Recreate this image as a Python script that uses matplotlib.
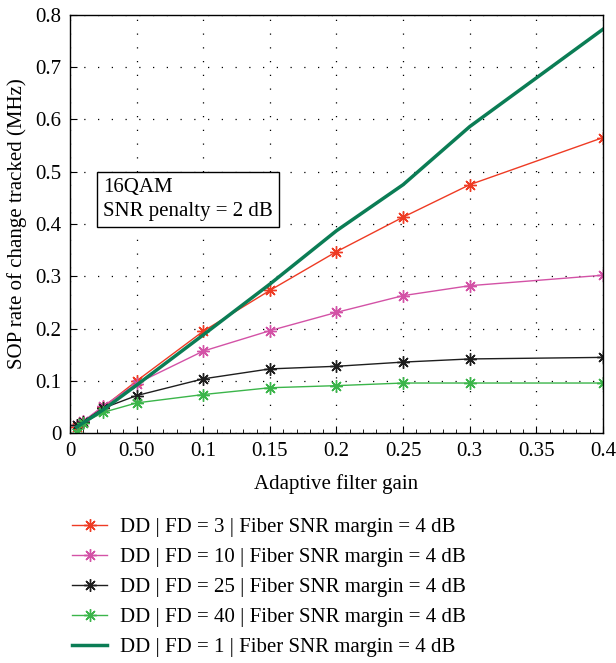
import matplotlib
matplotlib.use("Agg")
import matplotlib.pyplot as plt
from matplotlib.ticker import MultipleLocator

plt.rcParams['font.family'] = ['Liberation Serif', 'DejaVu Serif']
plt.rcParams['font.size'] = 15

# adaptive filter gain (x) and tracked SOP rate (MHz) for each frequency divider
gain = [0.005, 0.01, 0.025, 0.05, 0.1, 0.15, 0.2, 0.25, 0.3, 0.4]
fd3 = [0.012, 0.022, 0.050, 0.100, 0.195, 0.273, 0.347, 0.413, 0.475, 0.565]
fd10 = [0.015, 0.023, 0.052, 0.095, 0.157, 0.196, 0.231, 0.263, 0.282, 0.302]
fd25 = [0.015, 0.022, 0.048, 0.072, 0.104, 0.123, 0.128, 0.136, 0.142, 0.145]
fd40 = [0.000, 0.020, 0.040, 0.058, 0.074, 0.087, 0.091, 0.096, 0.096, 0.096]
fd1 = [0.012, 0.020, 0.045, 0.092, 0.188, 0.285, 0.387, 0.475, 0.586, 0.772]

xticks = [0, 0.05, 0.1, 0.15, 0.2, 0.25, 0.3, 0.35, 0.4]
xticklabels = ["0", "0.50", "0.1", "0.15", "0.2", "0.25", "0.3", "0.35", "0.4"]
yticks = [0, 0.1, 0.2, 0.3, 0.4, 0.5, 0.6, 0.7, 0.8]
yticklabels = ["0", "0.1", "0.2", "0.3", "0.4", "0.5", "0.6", "0.7", "0.8"]

fig = plt.figure(figsize=(6.16, 6.63), dpi=100)
ax = fig.add_axes([0.1136, 0.3465, 0.8653, 0.6315])

star = (8, 2, 0)
ax.plot(gain, fd3, color='#ee3b24', lw=1.0, marker=star, ms=9, mew=1.0,
        label="DD | FD = 3 | Fiber SNR margin = 4 dB")
ax.plot(gain, fd10, color='#d352a6', lw=1.0, marker=star, ms=9, mew=1.0,
        label="DD | FD = 10 | Fiber SNR margin = 4 dB")
ax.plot(gain, fd25, color='#1e1e1e', lw=1.0, marker=star, ms=9, mew=1.0,
        label="DD | FD = 25 | Fiber SNR margin = 4 dB")
ax.plot(gain, fd40, color='#3bb54a', lw=1.0, marker=star, ms=9, mew=1.0,
        label="DD | FD = 40 | Fiber SNR margin = 4 dB")
ax.plot(gain, fd1, color='#0b7d55', lw=2.5,
        label="DD | FD = 1 | Fiber SNR margin = 4 dB")

ax.set_xlim(0, 0.4)
ax.set_ylim(0, 0.8)
ax.set_xticks(xticks)
ax.set_xticklabels(xticklabels)
ax.set_yticks(yticks)
ax.set_yticklabels(yticklabels)
ax.xaxis.set_minor_locator(MultipleLocator(0.01))
ax.tick_params(which='both', direction='in', top=False, right=False)
ax.tick_params(which='major', length=5, pad=6)
ax.tick_params(which='minor', length=3)
ax.grid(True, which='major', color='black', linestyle=(0, (1, 10)), lw=0.9)
for s in ax.spines.values():
    s.set_linewidth(1.0)

ax.set_xlabel("Adaptive filter gain", labelpad=10)
ax.set_ylabel("SOP rate of change tracked (MHz)", labelpad=6)

ax.text(0.062, 0.61, "16QAM\nSNR penalty = 2 dB", transform=ax.transAxes,
        ha='left', va='top', linespacing=1.35,
        bbox=dict(boxstyle='square,pad=0.3', fc='white', ec='black', lw=1.0))

fig.legend(loc='upper left', bbox_to_anchor=(0.104, 0.232), frameon=False,
           handlelength=1.65, handletextpad=0.65, labelspacing=0.5,
           borderaxespad=0, fontsize=15)

fig.savefig("out.png", dpi=100)
